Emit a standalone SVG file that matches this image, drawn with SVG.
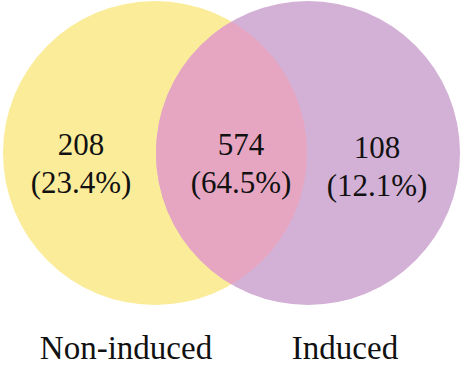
<svg xmlns="http://www.w3.org/2000/svg" width="462" height="372" viewBox="0 0 462 372">
<defs>
<clipPath id="clipY"><circle cx="155" cy="153" r="152"/></clipPath>
</defs>
<rect width="462" height="372" fill="#fff"/>
<g id="non-induced">
<circle cx="155" cy="153" r="152" fill="#FBEC9A"/>
</g>
<g id="induced">
<circle cx="308" cy="153" r="152" fill="#D3B0D5"/>
</g>
<g id="overlap">
<circle cx="308" cy="153" r="152" fill="#E6A6C1" clip-path="url(#clipY)"/>
</g>
<g id="labels" fill="#111" text-anchor="middle">
<text x="81" y="155" font-family="Liberation Serif, Times New Roman, serif" font-size="31">208</text>
<text x="81" y="193" font-family="Liberation Serif, Times New Roman, serif" font-size="31">(23.4%)</text>
<text x="241" y="155" font-family="Liberation Serif, Times New Roman, serif" font-size="31">574</text>
<text x="241" y="193" font-family="Liberation Serif, Times New Roman, serif" font-size="31">(64.5%)</text>
<text x="377" y="158" font-family="Liberation Serif, Times New Roman, serif" font-size="31">108</text>
<text x="377" y="196" font-family="Liberation Serif, Times New Roman, serif" font-size="31">(12.1%)</text>
<text x="126" y="359" font-family="Liberation Serif, Times New Roman, serif" font-size="33">Non-induced</text>
<text x="345" y="359" font-family="Liberation Serif, Times New Roman, serif" font-size="33">Induced</text>
</g>
</svg>
